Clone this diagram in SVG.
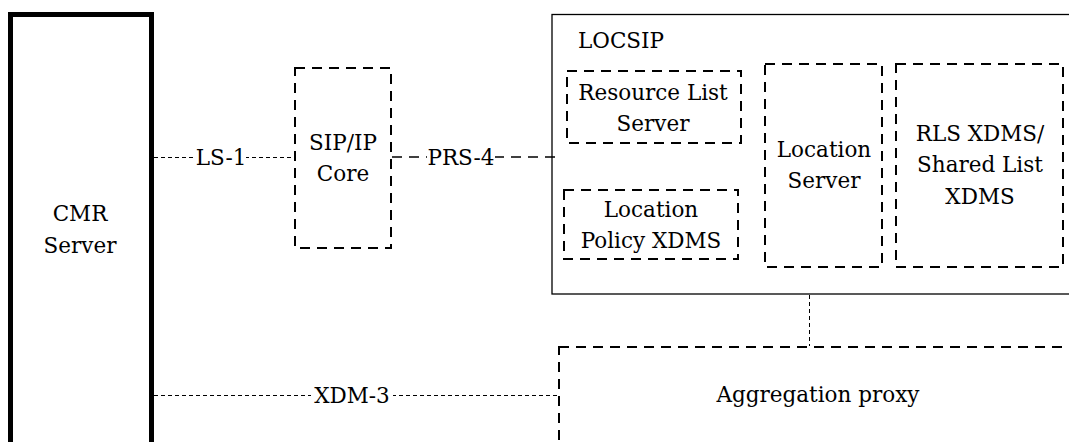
<svg xmlns="http://www.w3.org/2000/svg" width="1069" height="442" viewBox="0 0 1069 442">
<style>
text{font-family:'DejaVu Serif',serif;font-size:21.5px;fill:#000;text-anchor:middle}
.thick{fill:#fff;stroke:#000;stroke-width:5}
.solid{fill:#fff;stroke:#000;stroke-width:1.3}
.dbox{fill:none;stroke:#000;stroke-width:2;stroke-dasharray:10,7}
.thin{fill:none;stroke:#000;stroke-width:1;stroke-dasharray:4,3}
.mid{fill:none;stroke:#000;stroke-width:1.5;stroke-dasharray:10,7}
.bg{fill:#fff;stroke:none}
</style>
<rect width="1069" height="442" fill="#fff"/>
<g id="cmr-server">
<rect class="thick" x="10.5" y="14.5" width="141" height="440"/>
<text x="80" y="221">CMR</text>
<text x="80" y="253">Server</text>
</g>
<g id="sip-ip-core">
<rect class="dbox" x="295" y="68" width="96" height="180"/>
<text x="343" y="150">SIP/IP</text>
<text x="343" y="181">Core</text>
</g>
<g id="locsip">
<rect class="solid" x="552" y="14.5" width="530" height="279.5"/>
<text x="578" y="48" style="text-anchor:start">LOCSIP</text>
</g>
<g id="resource-list-server">
<rect class="dbox" x="567" y="71" width="174" height="72"/>
<text x="653" y="100">Resource List</text>
<text x="653" y="131">Server</text>
</g>
<g id="location-policy-xdms">
<rect class="dbox" x="564" y="190" width="174" height="69"/>
<text x="651" y="217">Location</text>
<text x="651" y="248">Policy XDMS</text>
</g>
<g id="location-server">
<rect class="dbox" x="765" y="64" width="117" height="203"/>
<text x="824" y="157">Location</text>
<text x="824" y="188">Server</text>
</g>
<g id="rls-xdms">
<rect class="dbox" x="896" y="64" width="167" height="203"/>
<text x="980" y="141">RLS XDMS/</text>
<text x="980" y="172">Shared List</text>
<text x="980" y="204">XDMS</text>
</g>
<g id="aggregation-proxy">
<rect class="dbox" x="559" y="347" width="530" height="120"/>
<text x="818" y="402">Aggregation proxy</text>
</g>
<g id="connectors">
<line class="thin" x1="154" y1="157.5" x2="295" y2="157.5"/>
<rect class="bg" x="196" y="144" width="50" height="24"/>
<text x="221" y="165">LS-1</text>
<line class="mid" x1="392" y1="157" x2="558" y2="157"/>
<rect class="bg" x="427" y="144" width="68" height="24"/>
<text x="461" y="165">PRS-4</text>
<line class="thin" x1="809.5" y1="295" x2="809.5" y2="346"/>
<line class="thin" x1="154" y1="395.5" x2="559" y2="395.5"/>
<rect class="bg" x="311" y="382" width="82" height="24"/>
<text x="352" y="403">XDM-3</text>
</g>
</svg>
